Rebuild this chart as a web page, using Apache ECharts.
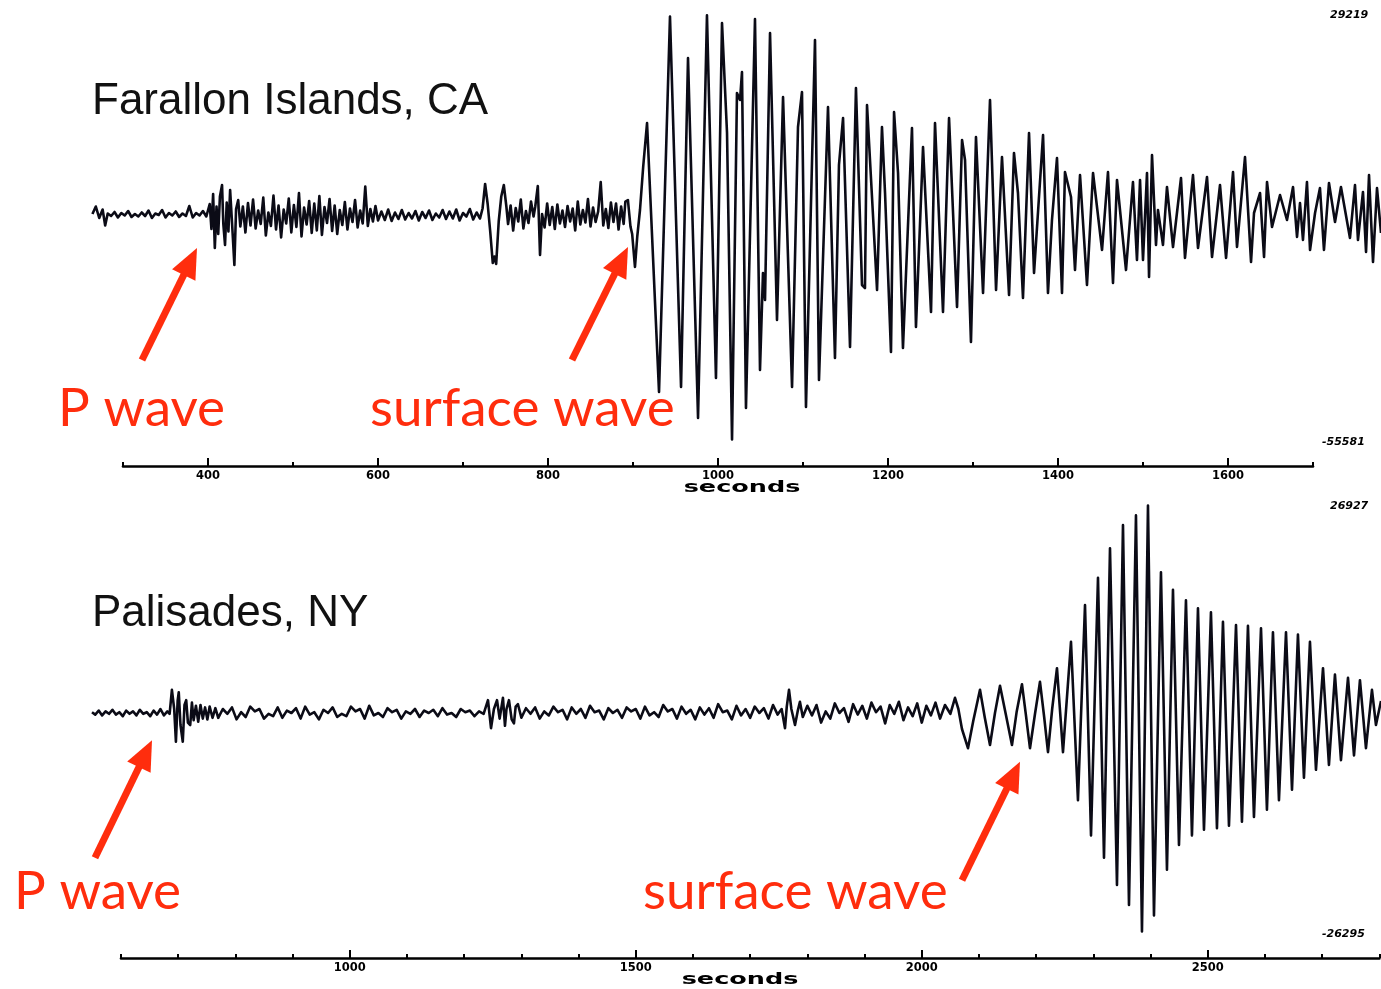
<!DOCTYPE html>
<html>
<head>
<meta charset="utf-8">
<script src="https://cdn.jsdelivr.net/npm/echarts@6/dist/echarts.min.js"></script>
<style>
html,body{margin:0;padding:0;background:#fff;}
#main{width:1381px;height:989px;}
</style>
</head>
<body>
<div id="main"></div>
<script>
// ---------- DATA ----------
const TITLES = ['Farallon Islands, CA', 'Palisades, NY'];
const PHASE_LABELS = ['P wave', 'surface wave'];
const AXIS_NAME = 'seconds';
const TOP_MAJOR_TICKS = [400, 600, 800, 1000, 1200, 1400, 1600];
const BOTTOM_MAJOR_TICKS = [1000, 1500, 2000, 2500];
const TOP_AMP_LABELS = ['29219', '-55581'];
const BOTTOM_AMP_LABELS = ['26927', '-26295'];

// Farallon Islands trace: [seconds, counts]
const farallon = [
[264,-10500],[268,-9000],[272,-11300],[276,-9600],[279,-12800],[282,-10400],[286,-10900],[290,-10100],[294,-11200],[298,-10300],[302,-10800],[306,-9900],[310,-11100],[314,-10500],[318,-11000],[322,-10200],[326,-10900],[330,-9800],[334,-11300],[338,-10400],[342,-10700],[346,-9700],[350,-11200],[354,-10300],[358,-10800],[362,-10000],[366,-11100],[370,-10400],[374,-10900],[378,-8900],[382,-11200],[386,-10300],[390,-10800],[394,-9900],[398,-11000],
[400,-10700],[402,-8500],[404,-13500],[406,-6500],[408,-17300],[410,-9000],[412,-14500],[414,-7000],[416.5,-4700],[418,-12500],[420,-16700],[422,-8200],[424,-14000],[426,-5700],[428,-11500],[431,-20700],[433,-9500],[435.5,-7700],[438,-13000],[441,-9000],[444,-14200],[447,-8300],[450,-12800],[453,-7600],[456,-13400],[459,-9800],[462,-12500],[465,-7200],[468,-14800],[471,-10200],[474,-12900],[477,-6800],[480,-13600],[483,-8800],[486,-15200],[489,-9600],[492,-12400],[495,-7400],[498,-14200],[501,-8700],[504,-13100],[507,-6300],[510,-15000],[513,-9200],[516,-12600],[519,-7900],[522,-14300],[525,-8400],[528,-13800],[531,-6900],[534,-14700],[537,-9100],[540,-12300],[543,-7500],[546,-13900],[549,-8800],[552,-14500],[555,-9700],[558,-12700],[561,-8100],[564,-13600],[567,-9400],[570,-12100],[573,-7700],[576,-13200],[579,-9800],[582,-12400],[585,-5000],[588,-12900],[591,-9500],[594,-12000],[597,-8900],[600,-11800],
[604,-10000],[608,-11700],[612,-9600],[616,-11900],[620,-10200],[624,-11500],[628,-9700],[632,-11600],[636,-10300],[640,-11400],[644,-9900],[648,-11800],[652,-10100],[656,-11300],[660,-9800],[664,-11700],[668,-10400],[672,-11200],[676,-9700],[680,-11500],[684,-10000],[688,-11400],[692,-9600],[696,-11800],[700,-10300],[704,-11000],[708,-9500],[712,-11600],[716,-10200],[720,-11400],[723,-9400],
[726,-4500],[729,-8500],[732,-14000],[735,-20300],[737,-19000],[739,-20500],[742,-12000],[745,-7000],[748,-4700],[751,-9000],[753,-12500],[756,-8800],[759,-13800],[762,-9300],[765,-12000],[768,-7600],[771,-13400],[774,-9900],[777,-12300],[780,-8000],[783,-11000],[785,-9000],[788,-4900],[790.6,-18700],
[793,-10500],[796,-13200],[799,-8400],[802,-12700],[805,-9100],[808,-13500],[811,-8600],[814,-12400],[817,-9800],[820,-13100],[823,-8900],[826,-12000],[829,-9400],[832,-13800],[835,-8000],[838,-12600],[841,-9700],[844,-12200],[847,-7500],[850,-13000],[853,-9200],[856,-12100],[859,-10000],[862,-4100],[865,-12800],[868,-9500],[871,-13300],[874,-8200],[877,-12100],[880,-8400],[883,-13600],[886,-9000],[889,-12500],[891,-8000],[894,-7700],[897,-13000],[899,-14500],[902.3,-21100],[905,-15000],[908.2,-9700],[912,-1000],[916.5,7700],
[930.6,-46100],[943.5,29000],[956.5,-45100],[964.7,20700],[976.5,-51300],[987.0,29219],[997.6,-43300],[1004.7,27700],[1010.6,5700],[1016.5,-55581],[1022.3,13700],[1025.9,12300],[1028.2,17900],[1032.9,-49300],[1043.5,28500],[1049.4,-41700],[1052.9,-22300],[1055.3,-27700],[1061.2,25700],[1069.4,-31700],[1076.5,12900],[1087.1,-45100],[1094.1,6900],[1098.8,13900],[1103.5,-49100],[1114.1,24300],[1118.8,-43700],[1129.4,10900],[1137.6,-39300],[1142.3,-700],[1147.1,8700],[1155.3,-37100],[1162.3,14700],[1169.4,-24700],[1172.9,-25300],[1175.3,11300],[1187.1,-25700],[1192.9,6900],[1196.5,-6300],[1203.5,-38100],[1207.1,9900],[1211.8,-2300],[1217.6,-37300],[1228.2,6700],[1232.9,-33100],[1241.2,2900],[1250.6,-30100],[1255.3,7700],[1264.7,-30100],[1271.8,8700],[1281.2,-29100],[1287.1,4300],[1290.6,300],[1297.6,-36100],[1303.5,4900],[1311.8,-26300],[1320.0,12300],[1327.1,-25700],[1334.1,900],[1342.4,-26700],[1348.2,1700],[1352.9,-6300],[1358.8,-27300],[1365.9,5700],[1371.8,-22300],[1382.4,5300],[1388.2,-26300],[1392.9,-11700],[1398.8,700],[1404.7,-26300],[1408.2,-2100],[1415.3,-7100],[1420.0,-21700],[1425.9,-2700],[1434.1,-24700],[1441.2,-2300],[1451.8,-17700],[1458.8,-2100],[1464.7,-24300],[1469.4,-3700],[1480.0,-21700],[1488.2,-4100],[1492.9,-19700],[1496.5,-3700],[1500.0,-19700],[1504.7,-2300],[1507.1,-23100],[1510.6,1300],[1515.3,-16700],[1517.6,-9700],[1523.5,-16700],[1528.2,-5100],[1535.3,-17100],[1544.7,-3300],[1549.4,-19300],[1558.8,-2700],[1564.7,-17300],[1575.3,-3100],[1581.2,-19100],[1590.6,-4700],[1597.7,-19300],[1605.9,-2100],[1610.6,-17100],[1620.0,900],[1627.1,-20100],[1630.6,-10300],[1637.7,-6300],[1642.4,-19100],[1645.9,-4100],[1651.8,-13100],[1661.2,-6700],[1669.4,-11700],[1676.5,-5100],[1681.2,-15100],[1684.7,-8300],[1688.2,-15700],[1692.9,-4100],[1696.5,-17700],[1702.4,-10300],[1708.2,-5300],[1712.9,-17700],[1718.8,-4300],[1725.9,-12100],[1732.9,-5100],[1743.5,-15300],[1749.4,-4700],[1752.9,-15700],[1758.8,-6100],[1762.4,-18100],[1765.9,-2700],[1770.6,-20100],[1775.3,-5300],[1780.0,-14300]
];

// Palisades trace: [seconds, counts]
const palisades = [
[549.3,1100],[555,800],[561,1300],[567,700],[573,1200],[579,900],[585,1400],[591,800],[597,1100],[603,600],[609,1300],[615,900],[621,1200],[627,700],[633,1400],[639,900],[645,1100],[651,600],[657,1300],[663,800],[669,1500],[675,700],[681,1200],[685,900],
[689,3900],[693,1500],[696,-2600],[699,2500],[701,3600],[704,-500],[708,-2600],[711,2000],[714,2600],[717,-200],[721,-500],[724,2300],[727,100],[731,1900],[735,-100],[739,2000],[743,300],[747,1700],[751,200],[755,1800],[760,400],[765,1600],
[770,400],[778,1500],[786,900],[794,1700],[802,200],[810,1100],[818,500],[826,1800],[834,1200],[842,1500],[850,300],[858,900],[866,600],[874,1700],[882,400],[890,1300],[898,1000],[906,1600],[914,300],[922,1800],[930,800],[938,1100],[946,200],[954,1400],[962,1000],[970,1700],[978,500],[986,900],[994,600],[1002,1800],[1010,1200],[1018,1500],[1026,300],[1034,1900],[1042,700],[1050,1000],[1058,500],[1066,1600],[1074,1100],[1082,1400],[1090,300],[1098,1200],[1106,900],[1114,1500],[1122,500],[1130,1300],[1138,1000],[1146,1400],[1154,600],[1162,1600],[1170,800],[1178,1000],[1186,500],[1194,1500],[1202,1100],[1210,1300],[1218,600],[1226,1200],[1234,900],
[1241.6,2600],[1246.9,-900],[1252,1500],[1257.4,2600],[1262,300],[1267.8,2900],[1271.3,-600],[1274,1500],[1278.3,2600],[1283,200],[1287,-300],[1290,1800],[1294,2100],[1300,400],
[1308,1600],[1316,900],[1324,1700],[1332,300],[1340,1200],[1348,700],[1356,1800],[1364,1100],[1372,1400],[1380,200],[1388,1700],[1396,900],[1404,1500],[1412,400],[1420,1900],[1428,1100],[1436,1300],[1444,200],[1452,1600],[1460,1000],[1468,1400],[1476,400],[1484,1700],[1492,1200],[1500,1500],[1508,300],[1516,1800],[1524,700],[1532,1100],[1540,500],[1548,2000],[1556,1200],[1564,1500],[1572,300],[1580,1800],[1588,900],[1596,1400],[1604,200],[1612,1700],[1620,800],[1628,1600],[1636,400],[1644,2100],[1652,1100],[1660,1300],[1668,200],[1676,1900],[1684,700],[1692,1500],[1700,400],[1708,1800],[1716,1000],[1724,1600],[1732,300],[1740,2000],[1748,800],
[1755,1500],[1760.9,-900],[1764,1800],[1767.9,3900],[1772,1500],[1778.4,-500],[1783,1200],[1787,2400],[1792,500],
[1800,1900],[1808,700],[1816,2000],[1824,-200],[1832,1200],[1840,300],[1848,2200],[1856,1000],[1864,1600],[1872,-100],[1880,2100],[1888,800],[1896,1900],[1904,300],[1912,2300],[1920,1100],[1928,1800],[1936,-300],[1944,2000],[1952,900],[1960,2400],[1968,100],[1976,1700],[1984,600],[1992,2200],[2000,-200],[2008,1900],[2016,700],[2024,2300],[2032,300],
[2040.6,2000],[2050,900],[2058.1,2900],[2064,1500],[2070.3,-1000],[2080.8,-3400],[2090,0],[2101.8,3900],[2110,500],[2119.3,-3000],[2128,1000],[2136.8,4400],[2147,800],[2157.7,-3000],[2166,1200],[2175.2,4600],[2182,800],[2189.2,-3400],[2198,900],[2206.7,4900],[2214,500],[2220.7,-3900],[2228,1500],
[2236.4,6600],[2246.9,-3900],[2260.9,9900],[2273.1,-9900],[2285.4,14500],[2295.9,-14300],[2308.1,17900],[2318.6,-17100],[2329.1,21600],[2341.3,-20500],[2351.8,24500],[2362.3,-23000],[2374.5,25700],[2385.0,-26295],[2395.5,26927],[2406.0,-24300],[2418.2,18600],[2428.7,-18600],[2439.2,16400],[2449.7,-15500],[2461.9,15100],[2472.4,-14300],[2482.9,14100],[2493.4,-13600],[2505.6,13600],[2516.1,-13400],[2526.6,12400],[2537.1,-13100],[2549.4,12000],[2559.8,-12600],[2570.3,11900],[2580.8,-12000],[2593.1,11600],[2603.5,-11100],[2614.0,11100],[2624.5,-9900],[2636.8,11100],[2647.3,-8600],[2657.7,10800],[2668.2,-7100],[2678.7,9900],[2689.2,-6100],[2701.5,6600],[2711.9,-5500],[2722.4,5800],[2732.9,-4900],[2745.2,5400],[2755.7,-4300],[2766.1,5100],[2776.6,-3400],[2787.1,3900],[2794.1,-500],[2802.9,2500]
];

// Arrow annotations in data coordinates: [seconds, counts]
const ARROWS = [
  {axis: 0, tail: [322.3, -39700], tip: [387.0, -17300]},
  {axis: 0, tail: [828.2, -39700], tip: [894.1, -17100]},
  {axis: 1, tail: [554.5, -17100], tip: [654.2, -2400]},
  {axis: 1, tail: [2070.3, -19900], tip: [2171.7, -5100]}
];

// ---------- CHART ----------
const INK = '#0b0b16';
const RED = '#ff2d0d';
const chart = echarts.init(document.getElementById('main'), null, {renderer: 'canvas'});

function hiddenX(grid, min, max) {
  return {gridIndex: grid, type: 'value', min: min, max: max, show: false, splitLine: {show: false}};
}
function hiddenY(grid, min, max) {
  return {gridIndex: grid, type: 'value', min: min, max: max, show: false, splitLine: {show: false}};
}
function minorAxis(grid, min, max) {
  return {
    gridIndex: grid, type: 'value', position: 'bottom', min: min, max: max, interval: 100,
    axisLine: {show: true, onZero: false, lineStyle: {color: '#000', width: 2.6}},
    axisTick: {show: true, inside: true, length: 4, lineStyle: {color: '#000', width: 2}},
    axisLabel: {show: false}, splitLine: {show: false}
  };
}
function majorAxis(grid, min, max, ticks) {
  return {
    gridIndex: grid, type: 'value', position: 'bottom', min: min, max: max, interval: 100,
    axisLine: {show: false, onZero: false},
    axisTick: {show: true, inside: true, length: 8, customValues: ticks, lineStyle: {color: '#000', width: 2}},
    axisLabel: {show: true, customValues: ticks, margin: 4, color: '#000',
      fontFamily: 'DejaVu Sans', fontWeight: 'bold', fontSize: 11.5,
      formatter: function (v) { return String(v); }},
    splitLine: {show: false}
  };
}

const option = {
  animation: false,
  backgroundColor: '#ffffff',
  grid: [
    {left: 92, right: 0, top: 14, height: 427},
    {left: 92, right: 0, top: 505, height: 428},
    {left: 123, width: 1190, top: 300, height: 166},
    {left: 121, width: 1258.4, top: 800, height: 158}
  ],
  xAxis: [
    hiddenX(0, 263.5, 1780),
    hiddenX(1, 549.3, 2802.9),
    minorAxis(2, 300, 1700),
    majorAxis(2, 300, 1700, TOP_MAJOR_TICKS),
    minorAxis(3, 600, 2800),
    majorAxis(3, 600, 2800, BOTTOM_MAJOR_TICKS)
  ],
  yAxis: [
    hiddenY(0, -55900, 29500),
    hiddenY(1, -26500, 27000),
    hiddenY(2, 0, 1),
    hiddenY(3, 0, 1)
  ],
  series: [
    {type: 'line', xAxisIndex: 0, yAxisIndex: 0, data: farallon, showSymbol: false, silent: true,
      lineStyle: {color: INK, width: 2.6, join: 'round'}},
    {type: 'line', xAxisIndex: 1, yAxisIndex: 1, data: palisades, showSymbol: false, silent: true,
      lineStyle: {color: INK, width: 2.6, join: 'round'}}
  ]
};
chart.setOption(option);

function txt(x, y, text, font, fill, align, extra) {
  return Object.assign({
    type: 'text', x: x, y: y, silent: true,
    style: {text: text, font: font, fill: fill, align: align, textAlign: align,
      verticalAlign: 'middle', textVerticalAlign: 'middle'}
  }, extra || {});
}

const graphics = [
  txt(92, 102, TITLES[0], '44px "Liberation Sans", Arial, sans-serif', '#111', 'left'),
  txt(92, 614, TITLES[1], '44px "Liberation Sans", Arial, sans-serif', '#111', 'left'),
  txt(58, 409, PHASE_LABELS[0], '53px Lato, "Open Sans", sans-serif', RED, 'left'),
  txt(370, 409, PHASE_LABELS[1], '53px Lato, "Open Sans", sans-serif', RED, 'left'),
  txt(14, 892, PHASE_LABELS[0], '53px Lato, "Open Sans", sans-serif', RED, 'left'),
  txt(643, 892, PHASE_LABELS[1], '53px Lato, "Open Sans", sans-serif', RED, 'left'),
  txt(742, 488, AXIS_NAME, 'bold 15px "DejaVu Sans", sans-serif', '#000', 'center', {scaleX: 1.7}),
  txt(740, 980, AXIS_NAME, 'bold 15px "DejaVu Sans", sans-serif', '#000', 'center', {scaleX: 1.7}),
  txt(1330, 15, TOP_AMP_LABELS[0], 'italic bold 11px "DejaVu Sans", sans-serif', '#000', 'left'),
  txt(1322, 442, TOP_AMP_LABELS[1], 'italic bold 11px "DejaVu Sans", sans-serif', '#000', 'left'),
  txt(1330, 506, BOTTOM_AMP_LABELS[0], 'italic bold 11px "DejaVu Sans", sans-serif', '#000', 'left'),
  txt(1322, 934, BOTTOM_AMP_LABELS[1], 'italic bold 11px "DejaVu Sans", sans-serif', '#000', 'left')
];

ARROWS.forEach(function (a) {
  const finder = {xAxisIndex: a.axis, yAxisIndex: a.axis};
  const T = chart.convertToPixel(finder, a.tip);
  const S = chart.convertToPixel(finder, a.tail);
  const dx = T[0] - S[0], dy = T[1] - S[1];
  const len = Math.sqrt(dx * dx + dy * dy);
  const ux = dx / len, uy = dy / len;
  const headLen = 30, halfW = 13;
  const bx = T[0] - ux * headLen, by = T[1] - uy * headLen;
  const px = -uy, py = ux;
  graphics.push({
    type: 'line', silent: true,
    shape: {x1: S[0], y1: S[1], x2: bx + ux * 3, y2: by + uy * 3},
    style: {stroke: RED, lineWidth: 7, lineCap: 'butt'}
  });
  graphics.push({
    type: 'polygon', silent: true,
    shape: {points: [[T[0], T[1]], [bx + px * halfW, by + py * halfW], [bx - px * halfW, by - py * halfW]]},
    style: {fill: RED}
  });
});

chart.setOption({graphic: graphics});
</script>
</body>
</html>
